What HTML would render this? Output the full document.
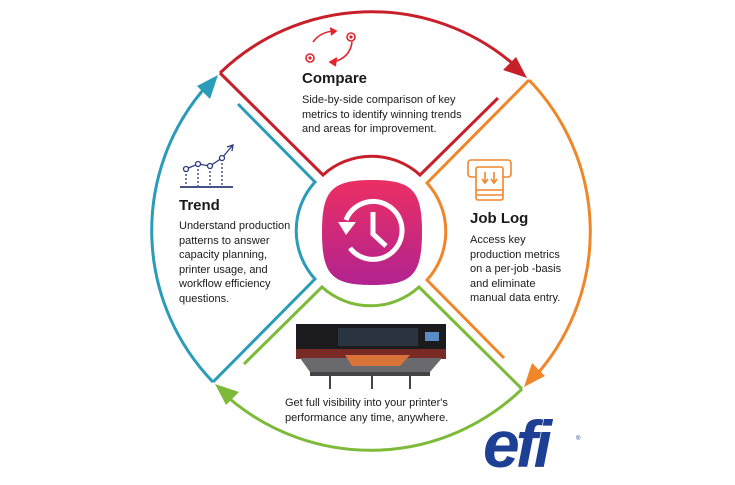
<!DOCTYPE html>
<html><head><meta charset="utf-8"><style>
html,body{margin:0;padding:0;background:#fff;}
body{width:735px;height:485px;position:relative;overflow:hidden;font-family:"Liberation Sans",Arial,sans-serif;color:#1a1a1a;}
.t{position:absolute;font-size:11px;line-height:14.5px;}
.h{position:absolute;font-weight:bold;font-size:15px;}
</style></head><body>
<svg width="735" height="485" style="position:absolute;left:0;top:0">
<defs>
<linearGradient id="pg" x1="0" y1="0" x2="0" y2="1"><stop offset="0" stop-color="#ec2f64"/><stop offset="1" stop-color="#b1238f"/></linearGradient>
<g id="seg">
<path d="M220,73 L323,175 A72,72 0 0 1 420,175 L498,98" fill="none" stroke-width="3"/>
<path d="M220,73 A218,218 0 0 1 512,63" fill="none" stroke-width="3"/>
<path d="M527,78 L503,70 L516,57 Z" stroke="none"/>
</g>
</defs>
<g stroke="#c8202a" fill="#c8202a"><use href="#seg"/></g>
<g stroke="#f0862a" fill="#f0862a" transform="rotate(90 371 231)"><use href="#seg"/></g>
<g stroke="#7dba3a" fill="#7dba3a" transform="rotate(180 371 231)"><use href="#seg"/></g>
<g stroke="#2a9bb8" fill="#2a9bb8" transform="rotate(270 371 231)"><use href="#seg"/></g>
<path d="M372,180 C412,180 422,190 422,232 C422,275 412,285 372,285 C332,285 322,275 322,232 C322,190 332,180 372,180 Z" fill="url(#pg)"/>
<path d="M350,248 A29,29 0 1 0 346,220" fill="none" stroke="#fff" stroke-width="5"/>
<path d="M338,222 L356,222 L346,235 Z" fill="#fff"/>
<path d="M373,212 L373,234 L386,246" fill="none" stroke="#fff" stroke-width="5"/>
<g stroke="#e0262c" fill="none" stroke-width="1.6">
<path d="M313,42 Q320,32 334,31"/><path d="M330,28 L336,31 L331,35" fill="#e0262c"/>
<path d="M352,42 Q350,58 333,62"/><path d="M337,58 L330,62 L336,66" fill="#e0262c"/>
<circle cx="351" cy="37" r="4"/><circle cx="310" cy="58" r="4"/>
</g>
<circle cx="351" cy="37" r="1.6" fill="#e0262c"/><circle cx="310" cy="58" r="1.6" fill="#e0262c"/>
<g stroke="#2b3a7a" fill="none" stroke-width="1.3">
<line x1="180" y1="187" x2="233" y2="187" stroke-width="1.8"/>
<path d="M186,169 L198,164 L210,166 L222,158 L232,146"/><path d="M227,147 L233,145 L232,151"/>
<g stroke-dasharray="2,2"><line x1="186" y1="170" x2="186" y2="186"/><line x1="198" y1="165" x2="198" y2="186"/><line x1="210" y1="167" x2="210" y2="186"/><line x1="222" y1="159" x2="222" y2="186"/></g>
<circle cx="186" cy="169" r="2.5" fill="#fff"/><circle cx="198" cy="164" r="2.5" fill="#fff"/><circle cx="210" cy="166" r="2.5" fill="#fff"/><circle cx="222" cy="158" r="2.5" fill="#fff"/>
</g>
<g stroke="#f0862a" fill="none" stroke-width="1.6">
<rect x="468" y="160" width="43" height="17" rx="3"/>
<rect x="476" y="167" width="27" height="33" rx="2" fill="#fff"/>
<line x1="476" y1="190" x2="503" y2="190"/><line x1="476" y1="195" x2="503" y2="195"/>
<path d="M485,172 L485,182 M482,179 L485,183 L488,179 M494,172 L494,182 M491,179 L494,183 L497,179"/>
</g>
<rect x="296" y="324" width="150" height="25" fill="#1b1b1e"/>
<rect x="338" y="328" width="80" height="18" fill="#2a3440"/>
<rect x="425" y="332" width="14" height="9" fill="#5a8bc4"/>
<rect x="296" y="349" width="150" height="10" fill="#7a2a25"/>
<polygon points="300,358 442,358 430,372 310,372" fill="#6a6a6e"/>
<polygon points="345,355 410,355 400,366 352,366" fill="#d9733a"/>
<rect x="310" y="372" width="120" height="4" fill="#444"/>
<g stroke="#444" stroke-width="2"><line x1="330" y1="376" x2="330" y2="389"/><line x1="372" y1="376" x2="372" y2="389"/><line x1="410" y1="376" x2="410" y2="389"/></g>
<text x="483" y="467" font-family="Liberation Sans,Arial,sans-serif" font-weight="bold" font-style="italic" font-size="66" fill="#1d3f94" letter-spacing="-4">efi</text>
<text x="576" y="440" font-family="Liberation Sans,Arial,sans-serif" font-size="6" fill="#1d3f94">®</text>
</svg>
<div class="h" style="left:302px;top:70px">Compare</div>
<div class="t" style="left:302px;top:93px">Side-by-side comparison of key<br>metrics to identify winning trends<br>and areas for improvement.</div>
<div class="h" style="left:179px;top:197px">Trend</div>
<div class="t" style="left:179px;top:219px">Understand production<br>patterns to answer<br>capacity planning,<br>printer usage, and<br>workflow efficiency<br>questions.</div>
<div class="h" style="left:470px;top:210px">Job Log</div>
<div class="t" style="left:470px;top:233px">Access key<br>production metrics<br>on a per-job -basis<br>and eliminate<br>manual data entry.</div>
<div class="t" style="left:285px;top:396px;width:170px;">Get full visibility into your printer's<br>performance any time, anywhere.</div>
</body></html>
